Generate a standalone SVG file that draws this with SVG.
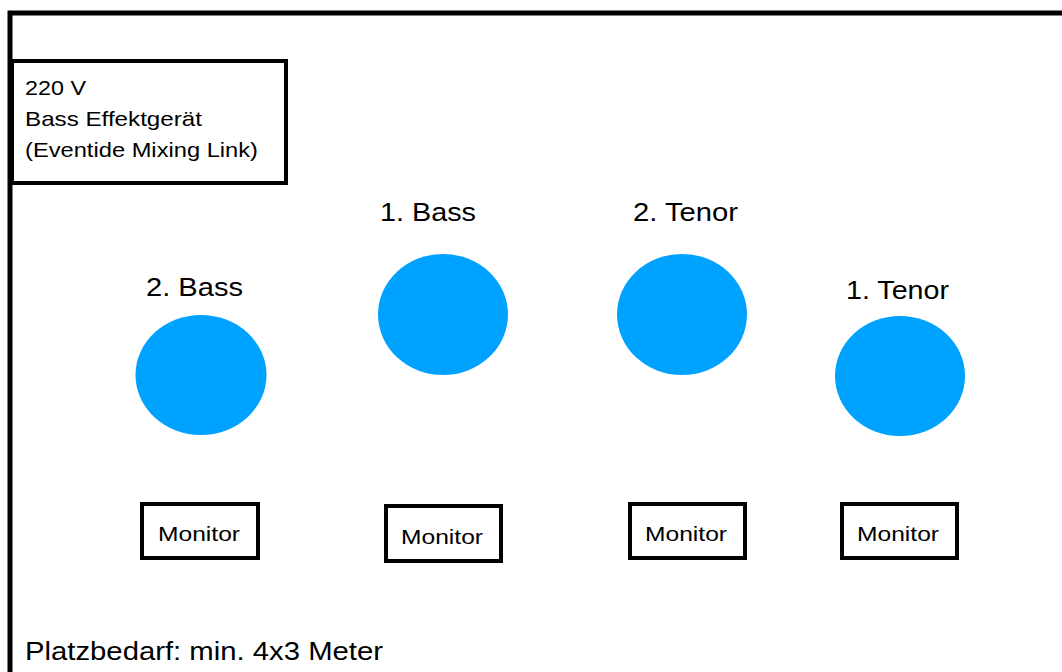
<svg xmlns="http://www.w3.org/2000/svg" width="1062" height="672" viewBox="0 0 1062 672">
<style>
.t{font-family:"Liberation Sans",Arial,sans-serif;fill:#000}
.box{fill:#fff;stroke:#000;stroke-width:4}
.sp{fill:#00a2ff}
</style>
<rect width="1062" height="672" fill="#fff"/>
<g id="frame">
<path d="M10 672 V13 H1062" fill="none" stroke="#000" stroke-width="5"/>
</g>
<g id="power">
<rect class="box" x="12" y="61" width="274" height="122"/>
<text class="t" x="25" y="95" font-size="21" textLength="61" lengthAdjust="spacingAndGlyphs">220 V</text>
<text class="t" x="25" y="126" font-size="21" textLength="177" lengthAdjust="spacingAndGlyphs">Bass Effektgerät</text>
<text class="t" x="25" y="157" font-size="21" textLength="233" lengthAdjust="spacingAndGlyphs">(Eventide Mixing Link)</text>
</g>
<g id="bass2">
<text class="t" x="146" y="296" font-size="26" textLength="97" lengthAdjust="spacingAndGlyphs">2. Bass</text>
<ellipse class="sp" cx="201" cy="375" rx="65.5" ry="60"/>
</g>
<g id="bass1">
<text class="t" x="380" y="221" font-size="26" textLength="96" lengthAdjust="spacingAndGlyphs">1. Bass</text>
<ellipse class="sp" cx="443" cy="314.5" rx="65" ry="60.5"/>
</g>
<g id="tenor2">
<text class="t" x="633" y="221" font-size="26" textLength="105" lengthAdjust="spacingAndGlyphs">2. Tenor</text>
<ellipse class="sp" cx="682" cy="314.5" rx="65" ry="60.5"/>
</g>
<g id="tenor1">
<text class="t" x="846" y="299" font-size="26" textLength="103" lengthAdjust="spacingAndGlyphs">1. Tenor</text>
<ellipse class="sp" cx="900" cy="376" rx="65" ry="60"/>
</g>
<g id="monitor1">
<rect class="box" x="142" y="504" width="116" height="54"/>
<text class="t" x="158" y="541" font-size="21" textLength="82" lengthAdjust="spacingAndGlyphs">Monitor</text>
</g>
<g id="monitor2">
<rect class="box" x="386" y="506" width="115" height="55"/>
<text class="t" x="401" y="544" font-size="21" textLength="82" lengthAdjust="spacingAndGlyphs">Monitor</text>
</g>
<g id="monitor3">
<rect class="box" x="630" y="504" width="115" height="54"/>
<text class="t" x="645" y="541" font-size="21" textLength="82" lengthAdjust="spacingAndGlyphs">Monitor</text>
</g>
<g id="monitor4">
<rect class="box" x="842" y="504" width="115" height="54"/>
<text class="t" x="857" y="541" font-size="21" textLength="82" lengthAdjust="spacingAndGlyphs">Monitor</text>
</g>
<g id="connectors"></g>
<text class="t" x="25" y="660" font-size="26" textLength="358" lengthAdjust="spacingAndGlyphs">Platzbedarf: min. 4x3 Meter</text>
</svg>
